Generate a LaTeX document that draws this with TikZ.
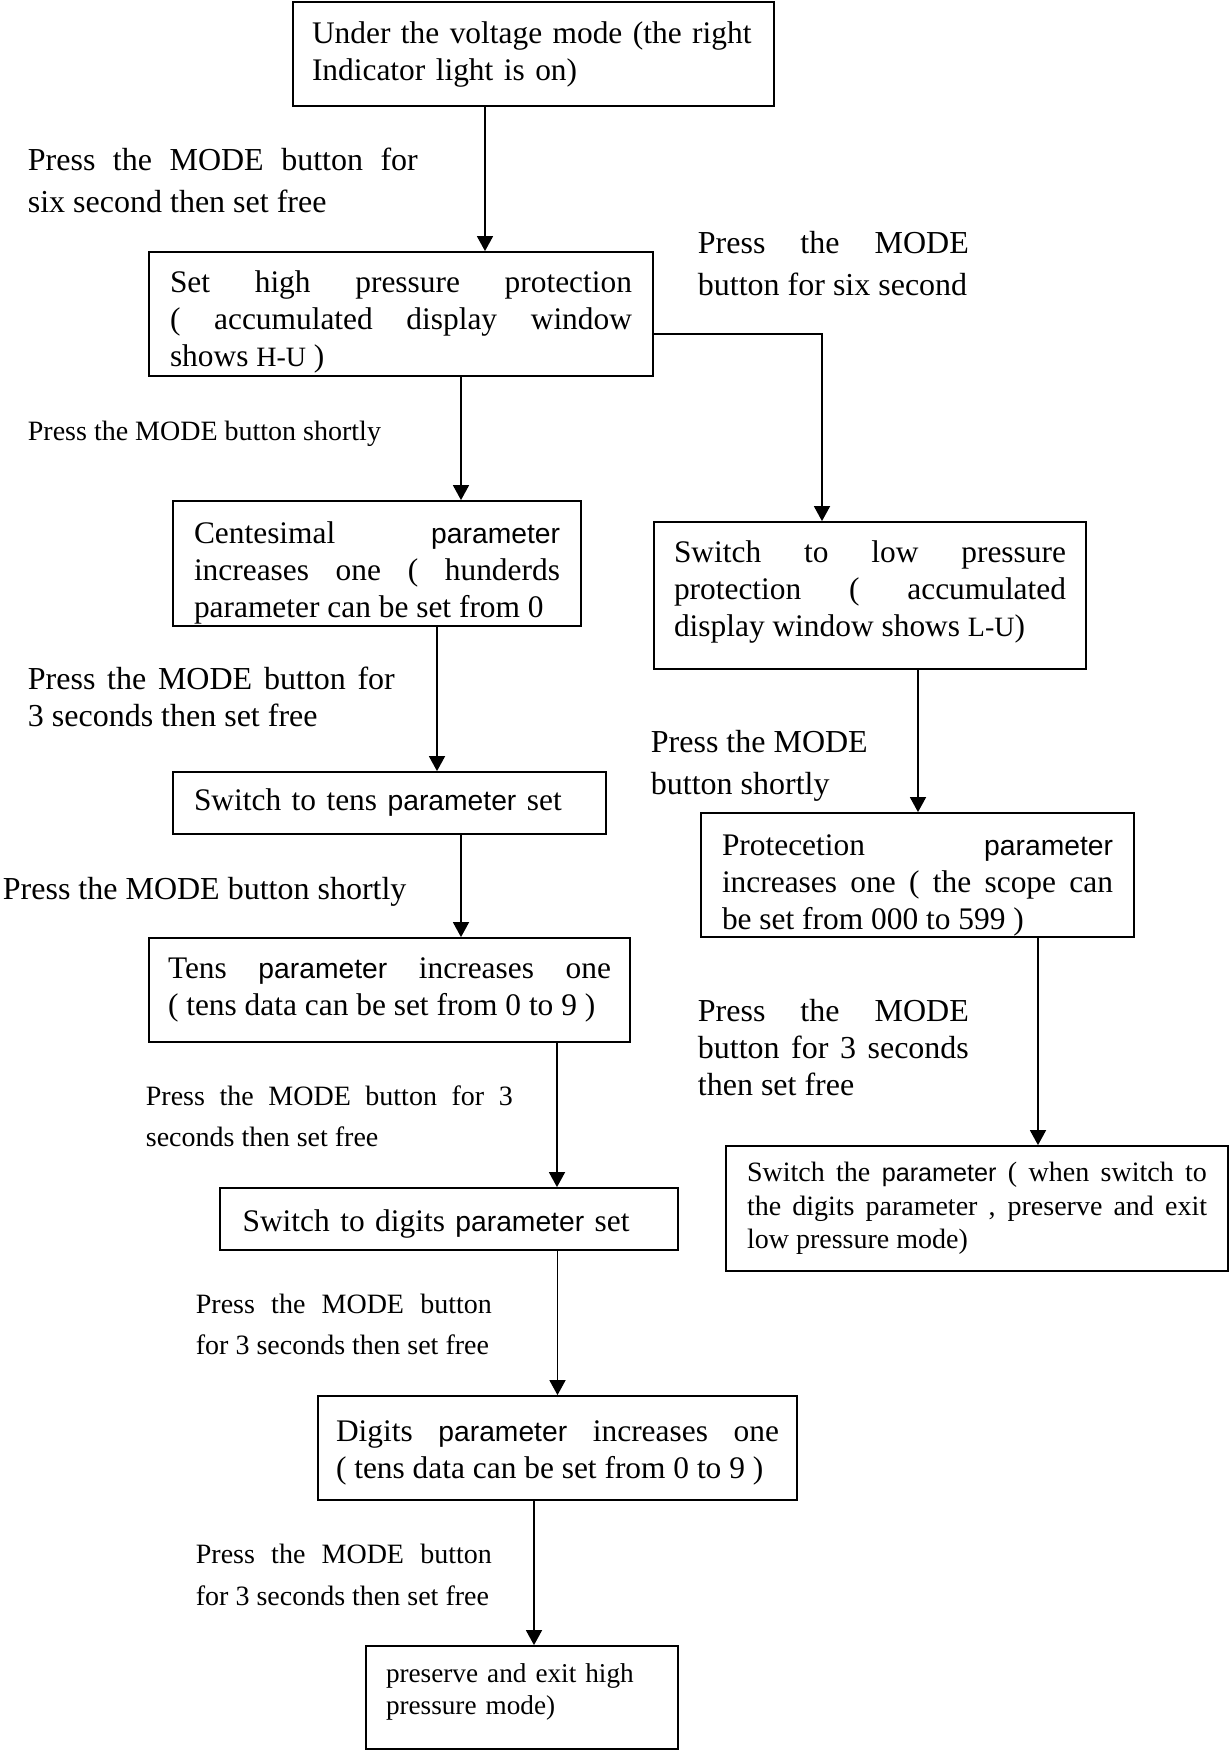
\documentclass[tikz,border=0pt]{standalone}
\usepackage{fontspec}
\setmainfont{Liberation Serif}
\newfontfamily\prmfont[Scale=0.9]{Liberation Sans}
\usepackage{tikz}
\usetikzlibrary{arrows.meta}

\newcommand{\prm}{{\prmfont parameter}}
\newcommand{\dsp}[1]{{\fontsize{14}{14}\selectfont #1}}
\tolerance=10000
\hbadness=10000

\begin{document}
\begin{tikzpicture}[x=0.5pt, y=-0.5pt, line width=0.9pt,
    box/.style={draw, inner xsep=10.5pt, inner ysep=0pt, align=justify,
      font=\fontsize{15.7}{18.5}\selectfont},
    sink/.style={execute at begin node={\rule{0pt}{#1}}},
    lift/.style={execute at end node={\rule[-#1]{0pt}{0pt}}},
    note/.style={inner sep=0pt, anchor=west, font=\fontsize{16}{20.7}\selectfont},
    smallnote/.style={note, font=\fontsize{14}{20.7}\selectfont},
    flow/.style={line width=0.8pt, -{Triangle[length=7.5pt, width=8pt]}}]
    \useasboundingbox (0, 0) rectangle (1230, 1753);

    % draw high pressure column
    \node[box, inner xsep=9.5pt, text width=221.5pt, minimum height=52pt, align=left] (start) at (533.5, 54)
      {Under the voltage mode (the right\\Indicator light is on)};
    \node[box, sink=19pt, text width=231pt, minimum height=62pt] (high) at (401, 314)
      {Set high pressure protection\linebreak ( accumulated display window\linebreak shows \dsp{H-U} )};
    \node[box, sink=20pt, text width=183pt, minimum height=62.5pt] (hund) at (377, 563.5)
      {Centesimal \prm\linebreak increases one ( hunderds\linebreak parameter can be set from 0};
    \node[box, text width=195.5pt, minimum height=31pt, align=left] (tens) at (389.5, 803)
      {Switch to tens \prm{} set};
    \node[box, inner xsep=9.5pt, text width=221.5pt, minimum height=52pt] (tenspar) at (389.5, 990)
      {Tens \prm{} increases one\linebreak ( tens data can be set from 0 to 9 )};
    \node[box, sink=15.5pt, inner xsep=11.3pt, text width=206.4pt, minimum height=31pt, align=left] (digits) at (449, 1219)
      {Switch to digits \prm{} set};
    \node[box, sink=15pt, inner xsep=9pt, text width=221.5pt, minimum height=52pt] (digitspar) at (557.5, 1448)
      {Digits \prm{} increases one\linebreak ( tens data can be set from 0 to 9 )};
    \node[box, lift=8.6pt, inner xsep=10pt, text width=136pt, minimum height=51.5pt, align=left,
      font=\fontsize{13.6}{16}\selectfont] (highend) at (522, 1697.5)
      {preserve and exit high\\pressure mode)};

    % draw low pressure column
    \node[box, lift=6.8pt, inner xsep=10pt, text width=196pt, minimum height=73.5pt] (low) at (870, 595.5)
      {Switch to low pressure\linebreak protection ( accumulated\linebreak display window shows \dsp{L-U})};
    \node[box, sink=21pt, text width=195.5pt, minimum height=62pt] (lowpar) at (917.5, 875)
      {Protecetion \prm\linebreak increases one ( the scope can\linebreak be set from 000 to 599 )};
    \node[box, text width=230pt, minimum height=62.5pt, font=\fontsize{14}{16.8}\selectfont] (lowend) at (977, 1208.5)
      {Switch the \prm{} ( when switch to\linebreak the digits parameter , preserve and exit\linebreak low pressure mode)};

    % draw button notes
    \node[note, text width=195pt, align=justify] (n1) at (27, 180.5)
      {Press the MODE button for\linebreak six second then set free};
    \node[note, text width=135.5pt, align=justify] (n2) at (697, 263.5)
      {Press the MODE\linebreak button for six second};
    \node[smallnote] (n3) at (27, 433.4) {Press the MODE button shortly};
    \node[note, text width=183.5pt, align=justify, font=\fontsize{16}{18.5}\selectfont] (n4) at (27, 696.5)
      {Press the MODE button for\linebreak 3 seconds then set free};
    \node[note, align=left] (n5) at (650, 766) {Press the MODE\\button shortly};
    \node[note] (n6) at (2, 891.4) {Press the MODE button shortly};
    \node[note, text width=135.5pt, align=justify, font=\fontsize{16}{18.5}\selectfont] (n7) at (697, 1047.5)
      {Press the MODE\linebreak button for 3 seconds\linebreak then set free};
    \node[smallnote, text width=183.5pt, align=justify] (n8) at (145, 1116.5)
      {Press the MODE button for 3\linebreak seconds then set free};
    \node[smallnote, text width=148pt, align=justify] (n9) at (195, 1324.5)
      {Press the MODE button\linebreak for 3 seconds then set free};
    \node[smallnote, text width=148pt, align=justify] (n10) at (195, 1575)
      {Press the MODE button\linebreak for 3 seconds then set free};

    % draw arrows
    \draw[flow] ([xshift=-24.25pt]start.south) -- ([xshift=-24.25pt]start.south |- high.north);
    \draw[flow] ([xshift=30pt]high.south) -- ([xshift=30pt]high.south |- hund.north);
    \draw[flow] ([yshift=-10pt]high.east) -| ([xshift=-24pt]low.north);
    \draw[flow] ([xshift=30pt]hund.south) -- ([xshift=30pt]hund.south |- tens.north);
    \draw[flow] ([xshift=35.75pt]tens.south) -- ([xshift=35.75pt]tens.south |- tenspar.north);
    \draw[flow] ([xshift=83.75pt]tenspar.south) -- ([xshift=83.75pt]tenspar.south |- digits.north);
    \draw[flow] (digitspar.north |- digits.south) -- (digitspar.north);
    \draw[flow] ([xshift=-11.75pt]digitspar.south) -- ([xshift=-11.75pt]digitspar.south |- highend.north);
    \draw[flow] ([xshift=24pt]low.south) -- ([xshift=24pt]low.south |- lowpar.north);
    \draw[flow] ([xshift=60.25pt]lowpar.south) -- ([xshift=60.25pt]lowpar.south |- lowend.north);
\end{tikzpicture}
\end{document}
